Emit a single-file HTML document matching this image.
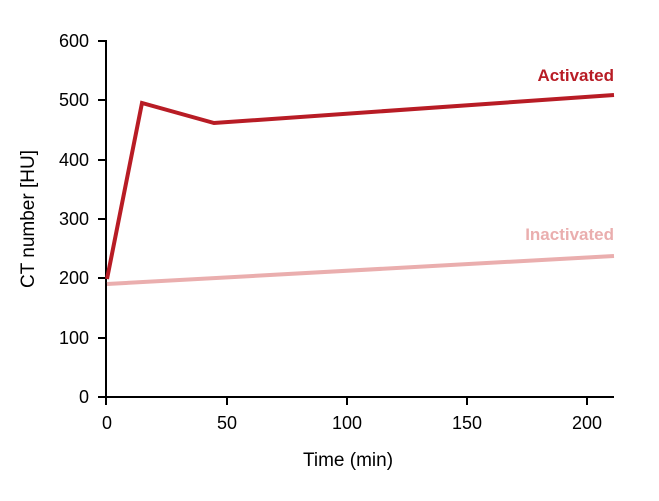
<!DOCTYPE html>
<html><head><style>body{margin:0;background:#fff}</style></head><body>
<svg width="659" height="496" xmlns="http://www.w3.org/2000/svg" font-family="Liberation Sans, sans-serif">
<rect width="659" height="496" fill="#fff"/>
<g stroke="#000" stroke-width="2" fill="none">
<line x1="106" y1="40" x2="106" y2="398"/>
<line x1="105" y1="397" x2="614" y2="397"/>
<line x1="98" y1="41" x2="106" y2="41"/>
<line x1="98" y1="100" x2="106" y2="100"/>
<line x1="98" y1="160" x2="106" y2="160"/>
<line x1="98" y1="219" x2="106" y2="219"/>
<line x1="98" y1="278" x2="106" y2="278"/>
<line x1="98" y1="338" x2="106" y2="338"/>
<line x1="98" y1="397" x2="106" y2="397"/>
<line x1="106" y1="397" x2="106" y2="405"/>
<line x1="227" y1="397" x2="227" y2="405"/>
<line x1="347" y1="397" x2="347" y2="405"/>
<line x1="467" y1="397" x2="467" y2="405"/>
<line x1="587" y1="397" x2="587" y2="405"/>
</g>
<g font-size="18" fill="#000" text-anchor="end">
<text x="89" y="47">600</text><text x="89" y="106">500</text><text x="89" y="166">400</text>
<text x="89" y="225">300</text><text x="89" y="284">200</text><text x="89" y="344">100</text><text x="89" y="403">0</text>
</g>
<g font-size="18" fill="#000" text-anchor="middle">
<text x="107" y="429">0</text><text x="227" y="429">50</text><text x="347" y="429">100</text>
<text x="467" y="429">150</text><text x="587" y="429">200</text>
<text x="348" y="466" font-size="19">Time (min)</text>
<text transform="translate(34 219) rotate(-90)" font-size="19">CT number [HU]</text>
</g>
<polyline points="107,284 614,256" fill="none" stroke="#eaaeae" stroke-width="4"/>
<polyline points="107,279 142,103 214,123 614,95" fill="none" stroke="#b81c25" stroke-width="4" stroke-linejoin="miter"/>
<text x="614" y="81" font-size="17" font-weight="bold" fill="#b81c25" text-anchor="end">Activated</text>
<text x="614" y="240" font-size="17" font-weight="bold" fill="#eaaeae" text-anchor="end">Inactivated</text>
</svg>
</body></html>
